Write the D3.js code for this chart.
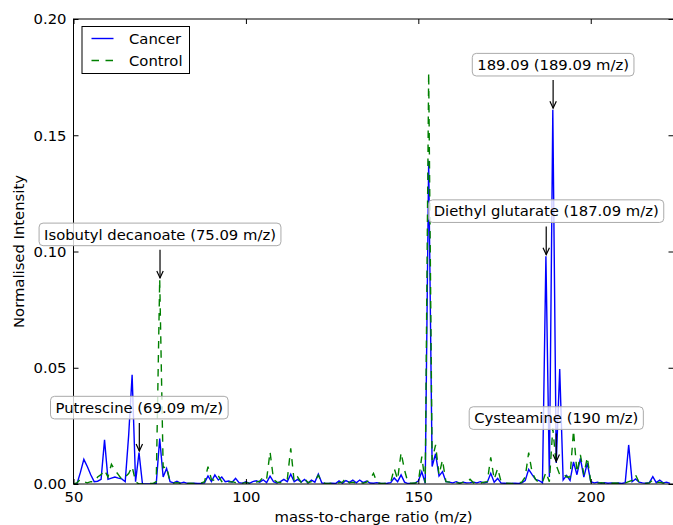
<!DOCTYPE html>
<html><head><meta charset="utf-8">
<script src="https://cdn.jsdelivr.net/npm/d3@7"></script>
<style>
body{margin:0;background:#fff;}
text{font-family:"DejaVu Sans",sans-serif;}
</style></head>
<body><svg id="c" width="673" height="525"></svg>
<script>
// m/z bins (50 .. 223)
const mz = d3.range(50, 224);
const cancer = [
0,0,0.005,0.0106,0.0075,0.004,0.001,0.0012,0.002,0.019,
0.002,0.0025,0.003,0.0025,0.0022,0.001,0.021,0.047,0.001,0.0135,
0,0,0,0,0.0003,0.0195,0.003,0.0067,0.001,0.0005,
0.0012,0.0004,0.0008,0.0003,0.0002,0.0003,0.0002,0.0003,0.0005,0.0035,
0.001,0.0039,0.0017,0.003,0.001,0.0013,0.0008,0.0024,0.0006,0.0004,
0.001,0.0003,0.001,0.0014,0.0008,0.0018,0.0006,0.0034,0.001,0.0004,
0.001,0.002,0.001,0.0042,0.001,0.002,0.0008,0.002,0.0004,0.0017,
0.0008,0.0043,0.0005,0.0002,0.0002,0.0003,0.0002,0.0013,0.0003,0.0015,
0.0007,0.0017,0.0005,0.0017,0.0006,0.0013,0.0004,0.0003,0.0006,0.0002,
0.0002,0.0003,0.0006,0.0026,0.001,0.0039,0.0008,0.0002,0.0002,0.0004,
0.0013,0.0053,0.0003,0.139,0.0075,0.013,0.0034,0.0053,0.001,0.0008,
0.0005,0.001,0.0004,0.0008,0.0005,0.0006,0.0008,0.0005,0.001,0.0005,
0.0008,0.0046,0.0008,0.0024,0.0004,0.0003,0.0002,0.0002,0.0003,0.0002,
0.0005,0.0015,0.0063,0.004,0.002,0.0015,0.0005,0.098,0.003,0.161,
0.009,0.0495,0.0017,0.0037,0.0015,0.0095,0.004,0.011,0.003,0.009,
0.001,0.0005,0.0008,0.0003,0.0006,0.0003,0.0005,0.0002,0.0004,0.0002,
0.0006,0.0168,0.001,0.0022,0.0008,0.0005,0.0003,0.0006,0.0032,0.0006,
0.0017,0.0005,0.0008,0.0003];
const control = [
0,0.0005,0.002,0.001,0.0005,0.001,0.001,0.003,0.004,0.006,
0.003,0.0085,0.006,0.004,0.002,0.003,0.0045,0.0075,0.001,0,
0,0,0.0002,0.0002,0.001,0.088,0.007,0.0075,0.001,0.0004,
0.0006,0.0003,0.0004,0.0002,0.0003,0.0002,0.0003,0.0004,0.001,0.0075,
0.002,0.0015,0.0035,0.001,0.0015,0.0008,0.001,0.0006,0.0008,0.0004,
0.0006,0.0004,0.0005,0.0008,0.0012,0.003,0.002,0.0138,0.002,0.0008,
0.0006,0.0012,0.002,0.0153,0.001,0.003,0.0008,0.0025,0.0006,0.001,
0.0012,0.0038,0.0006,0.0003,0.0002,0.0004,0.0003,0.0006,0.0008,0.0025,
0.0005,0.0008,0.0004,0.0006,0.0004,0.0008,0.002,0.0046,0.0006,0.0003,
0.0002,0.0004,0.0008,0.0067,0.002,0.0135,0.006,0.0005,0.0003,0.0004,
0.0008,0.0118,0.0005,0.177,0.0103,0.0168,0.004,0.0103,0.001,0.0008,
0.0004,0.0006,0.0003,0.0008,0.0006,0.002,0.0005,0.001,0.0004,0.0008,
0.001,0.0115,0.002,0.0067,0.001,0.0004,0.0003,0.0002,0.0003,0.0005,
0.0008,0.003,0.0135,0.005,0.002,0.0005,0.0008,0.005,0.001,0.024,
0.008,0.004,0.0045,0.003,0.003,0.023,0.005,0.0125,0.004,0.0115,
0.001,0.0005,0.0004,0.0006,0.0003,0.0005,0.0003,0.0004,0.0003,0.0004,
0.0005,0.001,0.0015,0.0039,0.0008,0.0004,0.0003,0.0005,0.0017,0.0005,
0.0008,0.0004,0.0006,0.0003];
const seriesNames = ["Cancer", "Control"];
const annLabels = ["Isobutyl decanoate (75.09 m/z)", "Putrescine (69.09 m/z)", "189.09 (189.09 m/z)", "Diethyl glutarate (187.09 m/z)", "Cysteamine (190 m/z)"];
const annX = [75.09, 69.09, 189.09, 187.09, 190];
const annY = [0.088, 0.0135, 0.161, 0.098, 0.009];
const xTicks = [50, 100, 150, 200];
const yTicks = [0, 0.05, 0.10, 0.15, 0.20];

const FS = "14.8px";
const svg = d3.select("#c");
const L = 73.5, R = 673.5, T = 19, B = 484;
const x = d3.scaleLinear().domain([50, 224]).range([L, R]);
const y = d3.scaleLinear().domain([0, 0.2]).range([B, T]);

svg.append("defs").append("clipPath").attr("id","clip")
  .append("rect").attr("x",L).attr("y",T).attr("width",R-L).attr("height",B-T);

const line = d3.line().x((d,i)=>x(mz[i])).y(d=>y(d));
const colors = ["#0000ff", "#008000"];
const g = svg.append("g").attr("clip-path","url(#clip)");
g.append("path").datum(cancer).attr("d", line).attr("fill","none")
  .attr("stroke", colors[0]).attr("stroke-width",1.4).attr("stroke-linejoin","miter");
g.append("path").datum(control).attr("d", line).attr("fill","none")
  .attr("stroke", colors[1]).attr("stroke-width",1.4).attr("stroke-dasharray","7.5,6.5");

// axes
const fmt = d3.format(".2f");
const ax = svg.append("g").attr("transform",`translate(0,${B})`)
  .call(d3.axisBottom(x).tickValues(xTicks).tickSize(-5).tickSizeOuter(0).tickPadding(7.5).tickFormat(d3.format("d")));
const axT = svg.append("g").attr("transform",`translate(0,${T})`)
  .call(d3.axisTop(x).tickValues(xTicks).tickSize(-5).tickSizeOuter(0).tickFormat(""));
const ay = svg.append("g").attr("transform",`translate(${L},0)`)
  .call(d3.axisLeft(y).tickValues(yTicks).tickSize(-5).tickSizeOuter(0).tickPadding(7).tickFormat(fmt));
const ayR = svg.append("g").attr("transform",`translate(${R},0)`)
  .call(d3.axisRight(y).tickValues(yTicks).tickSize(-5).tickSizeOuter(0).tickFormat(""));
[ax, axT, ay, ayR].forEach(a=>{
  a.select(".domain").remove();
  a.selectAll("line").attr("stroke","#000");
  a.selectAll("text").attr("fill","#000").style("font-size",FS).style("font-family","DejaVu Sans");
});
svg.append("rect").attr("x",L).attr("y",T).attr("width",R-L).attr("height",B-T)
  .attr("fill","none").attr("stroke","#000").attr("stroke-width",1);

svg.append("text").attr("x",(L+R)/2).attr("y",522).attr("text-anchor","middle")
  .style("font-size",FS).text("mass-to-charge ratio (m/z)");
svg.append("text").attr("transform",`translate(24,${(T+B)/2}) rotate(-90)`).attr("text-anchor","middle")
  .style("font-size",FS).text("Normalised Intensity");

// annotations
annLabels.forEach((lab,i)=>{
  const px = x(annX[i]), py = y(annY[i]);
  const ty = py - 45;
  const ag = svg.append("g");
  const t = ag.append("text").attr("x",px).attr("y",ty).attr("dy","0.35em")
    .attr("text-anchor","middle").style("font-size",FS).text(lab);
  const bb = t.node().getBBox();
  const bx = bb.x - 5, bw = bb.width + 10, byTop = ty - 11.3, bh = 22.6;
  ag.insert("rect","text").attr("x",bx).attr("y",byTop).attr("width",bw).attr("height",bh)
    .attr("rx",4).attr("ry",4).attr("fill","#fff").attr("fill-opacity",0.8)
    .attr("stroke","#aaaaaa").attr("stroke-width",1);
  const y0 = byTop + bh + 4, y1 = py - 1.5;
  ag.append("line").attr("x1",px).attr("x2",px).attr("y1",y0).attr("y2",y1)
    .attr("stroke","#000").attr("stroke-width",1.2);
  ag.append("path").attr("d",`M${px-3.2},${y1-7} L${px},${y1} L${px+3.2},${y1-7}`)
    .attr("fill","none").attr("stroke","#000").attr("stroke-width",1.2);
});

// legend
const lg = svg.append("g");
lg.append("rect").attr("x",82).attr("y",26.5).attr("width",107.5).attr("height",47)
  .attr("fill","#fff").attr("stroke","#000").attr("stroke-width",1);
seriesNames.forEach((n,i)=>{
  const ly = 38.5 + i*22;
  lg.append("line").attr("x1",91.5).attr("x2",113.5).attr("y1",ly).attr("y2",ly)
    .attr("stroke",colors[i]).attr("stroke-width",1.4)
    .attr("stroke-dasharray", i===1 ? "7.5,6.5" : null);
  lg.append("text").attr("x",129).attr("y",ly).attr("dy","0.35em")
    .style("font-size",FS).text(n);
});
</script></body></html>
